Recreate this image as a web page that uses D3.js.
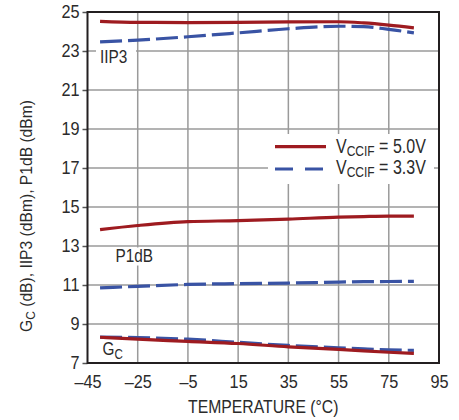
<!DOCTYPE html>
<html>
<head>
<meta charset="utf-8">
<script src="https://cdn.jsdelivr.net/npm/d3@7"></script>
<style>
  body { margin: 0; background: #fff; }
  text { font-family: "Liberation Sans", Arial, sans-serif; fill: #2b2b2b; }
</style>
</head>
<body>
<div id="chart-area"></div>
<script>
// Data
var temps = [-40, -25, -5, 15, 35, 55, 65, 75, 85];
var iip3_50 = [24.52, 24.47, 24.46, 24.47, 24.49, 24.50, 24.44, 24.33, 24.19];
var iip3_33 = [23.47, 23.56, 23.73, 23.93, 24.14, 24.27, 24.25, 24.11, 23.93];
var p1db_50 = [13.84, 14.05, 14.25, 14.30, 14.38, 14.48, 14.51, 14.53, 14.53];
var p1db_33 = [10.85, 10.93, 11.03, 11.07, 11.10, 11.15, 11.17, 11.18, 11.19];
var gc_50 = [8.32, 8.22, 8.11, 8.00, 7.83, 7.70, 7.62, 7.55, 7.49];
var gc_33 = [8.33, 8.30, 8.22, 8.06, 7.90, 7.78, 7.72, 7.67, 7.65];
var xTicks = [-45, -25, -5, 15, 35, 55, 75, 95];
var yTicks = [7, 9, 11, 13, 15, 17, 19, 21, 23, 25];

var RED = "#9e1b20", BLUE = "#3953a4";

var margin = { left: 87.5, right: 20, top: 12, bottom: 57 },
    width = 459 - margin.left - margin.right,
    height = 420 - margin.top - margin.bottom;

var svg = d3.select("#chart-area")
    .append("svg")
    .attr("width", 459)
    .attr("height", 420);
var g = svg.append("g")
    .attr("transform", "translate(" + margin.left + "," + margin.top + ")");

// squeeze text horizontally about its anchor (reference uses a condensed face)
function condense(sel, s) {
    sel.each(function() {
        var el = d3.select(this);
        var ax = +el.attr("x") || 0, ay = +el.attr("y") || 0;
        var pre = el.attr("data-pre") || "";
        el.attr("transform", pre + " translate(" + ax + "," + ay + ") scale(" + s + ",1) translate(" + (-ax) + "," + (-ay) + ")");
    });
}

// Scales
var x = d3.scaleLinear().domain([-45, 95]).range([0, width]);
var y = d3.scaleLinear().domain([7, 25]).range([height, 0]);

// Grid
g.append("g").selectAll("line")
    .data(xTicks.slice(1, -1))
    .enter().append("line")
    .attr("x1", function(d) { return x(d); })
    .attr("x2", function(d) { return x(d); })
    .attr("y1", 0).attr("y2", height)
    .attr("stroke", "#9a9a9a").attr("stroke-width", 1.5);
g.append("g").selectAll("line")
    .data(yTicks.slice(1, -1))
    .enter().append("line")
    .attr("x1", 0).attr("x2", width)
    .attr("y1", function(d) { return y(d); })
    .attr("y2", function(d) { return y(d); })
    .attr("stroke", "#9a9a9a").attr("stroke-width", 1.5);

// Axes (labels only, frame drawn separately)
var xAxis = g.append("g")
    .attr("transform", "translate(0," + height + ")")
    .call(d3.axisBottom(x).tickValues(xTicks).tickSize(0).tickPadding(12)
        .tickFormat(function(d) { return d < 0 ? "\u2013" + Math.abs(d) : d; }));
var yAxis = g.append("g")
    .call(d3.axisLeft(y).tickValues(yTicks.filter(function(d) { return d % 2 === 1; }))
        .tickSize(5).tickPadding(3));
[xAxis, yAxis].forEach(function(a) {
    a.select(".domain").remove();
    a.selectAll("text").attr("font-size", "17.7px").attr("font-family", null).style("fill", "#2b2b2b");
    a.selectAll("line").attr("stroke", "#555").attr("stroke-width", 1.5);
    condense(a.selectAll("text"), 0.92);
});

// Curve labels with white backgrounds
function label(txt, lx, ly, bx, bw, sub) {
    g.append("rect").attr("x", bx).attr("y", ly - 15).attr("width", bw).attr("height", 18).attr("fill", "#fff");
    var t = g.append("text").attr("x", lx).attr("y", ly).attr("font-size", "18.5px").text(txt);
    if (sub) t.append("tspan").attr("font-size", "14px").attr("dy", 4).text(sub);
    condense(t, 0.83);
}
label("IIP3", 100 - margin.left, 63 - margin.top, 96 - margin.left, 40);
label("P1dB", 115.5 - margin.left, 262.5 - margin.top, 110 - margin.left, 49);
label("G", 102.5 - margin.left, 355 - margin.top, 100 - margin.left, 24, "C");

// Lines
var line = d3.line()
    .x(function(d) { return x(d[0]); })
    .y(function(d) { return y(d[1]); })
    .curve(d3.curveMonotoneX);

var series = [
    { v: iip3_33, c: BLUE, dash: "22,6" },
    { v: p1db_33, c: BLUE, dash: "22,6" },
    { v: gc_33, c: BLUE, dash: "22,6" },
    { v: iip3_50, c: RED, dash: null },
    { v: p1db_50, c: RED, dash: null },
    { v: gc_50, c: RED, dash: null }
];
series.forEach(function(s) {
    g.append("path")
        .datum(d3.zip(temps, s.v))
        .attr("d", line)
        .attr("fill", "none")
        .attr("stroke", s.c)
        .attr("stroke-width", 3.2)
        .attr("stroke-dasharray", s.dash);
});

// Legend
var lg = g.append("g");
lg.append("rect").attr("x", 268 - margin.left).attr("y", 134 - margin.top)
    .attr("width", 166).attr("height", 50).attr("fill", "#fff");
var legendItems = [
    { c: RED, dash: null, val: " = 5.0V", ly: 146.7, ty: 153 },
    { c: BLUE, dash: "18,12", val: " = 3.3V", ly: 169, ty: 174 }
];
legendItems.forEach(function(d) {
    lg.append("line")
        .attr("x1", 275 - margin.left).attr("x2", 326 - margin.left)
        .attr("y1", d.ly - margin.top).attr("y2", d.ly - margin.top)
        .attr("stroke", d.c).attr("stroke-width", 3.2)
        .attr("stroke-dasharray", d.dash);
    var t = lg.append("text").attr("x", 336 - margin.left).attr("y", d.ty - margin.top)
        .attr("font-size", "20px").text("V");
    t.append("tspan").attr("font-size", "15px").attr("dy", 3).text("CCIF");
    t.append("tspan").attr("dy", -3).text(d.val);
    condense(t, 0.8);
});

// Frame
g.append("rect").attr("x", 0).attr("y", 0).attr("width", width).attr("height", height)
    .attr("fill", "none").attr("stroke", "#231f20").attr("stroke-width", 2);

// Axis titles
var xl = g.append("text")
    .attr("x", width / 2).attr("y", 413 - margin.top)
    .attr("text-anchor", "middle").attr("font-size", "17.7px")
    .text("TEMPERATURE (\u00b0C)");
condense(xl, 0.89);
var yl = g.append("text")
    .attr("data-pre", "translate(" + (32 - margin.left) + "," + (216 - margin.top) + ") rotate(-90)")
    .attr("text-anchor", "middle").attr("font-size", "17px");
yl.append("tspan").text("G");
yl.append("tspan").attr("font-size", "13px").attr("dy", 3).text("C");
yl.append("tspan").attr("dy", -3).text(" (dB), IIP3 (dBm), P1dB (dBm)");
condense(yl, 0.92);
</script>
</body>
</html>
